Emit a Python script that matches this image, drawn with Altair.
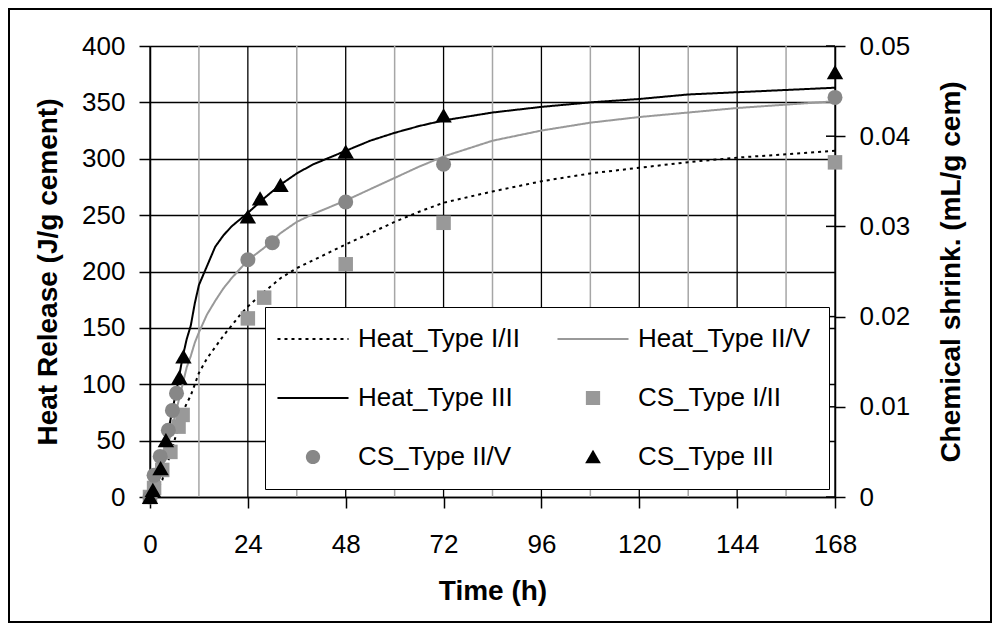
import altair as alt
import pandas as pd

# ---------------- data ----------------
series_names = ["Heat_Type I/II", "Heat_Type II/V", "Heat_Type III",
                "CS_Type I/II", "CS_Type II/V", "CS_Type III"]
series_colors = ["#000000", "#999999", "#000000", "#999999", "#878787", "#000000"]
series_shapes = ["M-5.8,0H5.8", "M-5.8,0H5.8", "M-5.8,0H5.8", "square", "circle", "triangle-up"]
series_dash = [[3, 4], [1, 0], [1, 0], [1, 0], [1, 0], [1, 0]]

heat_time = [0, 1, 2, 3, 4, 5, 6, 7, 8, 9, 10, 11, 12, 14, 16, 18, 20, 22, 24, 28, 32, 36,
             40, 44, 48, 54, 60, 66, 72, 84, 96, 108, 120, 132, 144, 156, 168]
heat_type_I_II = [0, 3, 8, 15, 27, 38, 50, 63, 75, 83, 90, 100, 110, 123, 133, 143, 152, 161,
                  169, 182, 194, 203, 210, 217, 224, 234, 244, 253, 261, 271, 280, 287, 292,
                  297, 301, 304, 307]
heat_type_II_V = [0, 5, 13, 25, 40, 55, 70, 85, 100, 115, 125, 137, 146, 162, 174, 185, 194,
                  202, 210, 221, 234, 244, 251, 257, 263, 273, 283, 293, 302, 316, 325, 332,
                  337, 341, 345, 348, 351]
heat_type_III = [0, 4, 14, 30, 50, 68, 86, 104, 124, 140, 152, 172, 188, 205, 222, 232, 240,
                 246, 252, 265, 277, 287, 295, 301, 307, 316, 323, 329, 334, 341, 346, 350,
                 353, 357, 359, 361, 363]

cs_I_II_time = [0, 1, 3, 5, 7, 8, 24, 28, 48, 72, 168]
cs_I_II = [0, 0.001, 0.003, 0.005, 0.0078, 0.0091, 0.0198, 0.0221, 0.0258, 0.0304, 0.0371]
cs_II_V_time = [0, 1, 2.5, 4.5, 5.5, 6.5, 24, 30, 48, 72, 168]
cs_II_V = [0, 0.0024, 0.0045, 0.0074, 0.0096, 0.0115, 0.0263, 0.0282, 0.0327, 0.0369, 0.0443]
cs_III_time = [0, 0.7, 2.6, 3.9, 7.2, 8.2, 24, 27, 32, 48, 72, 168]
cs_III = [0, 0.0008, 0.0032, 0.0063, 0.0133, 0.0156, 0.0311, 0.0331, 0.0346, 0.0383, 0.0423, 0.0471]

x_ticks = [0, 24, 48, 72, 96, 120, 144, 168]
x_minor = [12, 36, 60, 84, 108, 132, 156]
heat_ticks = [0, 50, 100, 150, 200, 250, 300, 350, 400]
cs_ticks = [0, 0.01, 0.02, 0.03, 0.04, 0.05]

# ---------------- tables ----------------
heat_rows = []
for name, vals in zip(series_names[:3], [heat_type_I_II, heat_type_II_V, heat_type_III]):
    for t, v in zip(heat_time, vals):
        heat_rows.append({"time": t, "heat": v, "series": name})
df_heat = pd.DataFrame(heat_rows)

cs_tables = []
for name, ts, vals in zip(series_names[3:], [cs_I_II_time, cs_II_V_time, cs_III_time],
                          [cs_I_II, cs_II_V, cs_III]):
    cs_tables.append(pd.DataFrame({"time": ts, "cs": vals, "series": [name] * len(ts)}))

df_minor = pd.DataFrame({"time": x_minor})
df_major = pd.DataFrame({"time": x_ticks})
df_cs_ticks = pd.DataFrame({"cs": cs_ticks})

FONT = "Liberation Sans"
W, H = 685, 451
LBL = 26
TTL = 28

color_scale = alt.Scale(domain=series_names, range=series_colors)
shape_scale = alt.Scale(domain=series_names, range=series_shapes)
dash_scale = alt.Scale(domain=series_names, range=series_dash)

legend = alt.Legend(
    title=None, orient="none", legendX=115, legendY=261, columns=2, direction="horizontal",
    fillColor="white", strokeColor="black", padding=19,
    labelFont=FONT, labelFontSize=LBL, labelColor="black", labelOffset=32, symbolOffset=16,
    symbolSize=150, symbolStrokeWidth=2, rowPadding=33, columnPadding=33,
    labelLimit=400,
)

x_axis = alt.Axis(values=x_ticks, title="Time (h)", grid=False, labelFlush=False,
                  tickSize=11, tickColor="black", tickWidth=1.5,
                  domainColor="black", domainWidth=1.5,
                  labelFont=FONT, labelFontSize=LBL, labelColor="black", labelPadding=23,
                  titleFont=FONT, titleFontSize=TTL, titleFontWeight="bold",
                  titleColor="black", titlePadding=20)
x_enc = alt.X("time:Q", scale=alt.Scale(domain=[0, 168], nice=False), axis=x_axis)

minor = alt.Chart(df_minor).mark_rule(color="#a6a6a6", strokeWidth=1.5).encode(x=x_enc)
major = alt.Chart(df_major).mark_rule(color="black", strokeWidth=1.3).encode(x=x_enc)

lines = alt.Chart(df_heat).mark_line(strokeWidth=2).encode(
    x=x_enc,
    y=alt.Y("heat:Q", scale=alt.Scale(domain=[0, 400], nice=False),
            axis=alt.Axis(values=heat_ticks, title="Heat Release (J/g cement)", orient="left",
                          grid=True, gridColor="black", gridWidth=1.3, tickSize=11,
                          tickColor="black", tickWidth=1.5, domainColor="black", domainWidth=1.5,
                          labelFont=FONT, labelFontSize=LBL, labelColor="black", labelPadding=14,
                          titleFont=FONT, titleFontSize=TTL, titleFontWeight="bold",
                          titleColor="black", titlePadding=19)),
    color=alt.Color("series:N", scale=color_scale, legend=legend),
    strokeDash=alt.StrokeDash("series:N", scale=dash_scale, legend=legend),
    detail="series:N",
)

cs_y = alt.Y("cs:Q", scale=alt.Scale(domain=[0, 0.05], nice=False),
             axis=alt.Axis(values=cs_ticks, title="Chemical shrink. (mL/g cem)", orient="right",
                           format=".2~f", grid=False, tickSize=10, tickColor="black",
                           tickWidth=1.5, domainColor="black", domainWidth=1.5,
                           labelFont=FONT, labelFontSize=LBL, labelColor="black", labelPadding=14,
                           titleFont=FONT, titleFontSize=TTL, titleFontWeight="bold",
                           titleColor="black", titlePadding=56, titleAngle=270))

point_sizes = [210, 225, 270]
point_layers = [
    alt.Chart(df_cs_ticks).mark_tick(color="black", thickness=1.5, size=9, opacity=1).encode(
        x=alt.value(W - 4.5), y=cs_y)
]
for df_s, sz in zip(cs_tables, point_sizes):
    point_layers.append(
        alt.Chart(df_s).mark_point(filled=True, opacity=1, size=sz).encode(
            x=x_enc, y=cs_y,
            color=alt.Color("series:N", scale=color_scale, legend=legend),
            shape=alt.Shape("series:N", scale=shape_scale, legend=legend),
        )
    )
points = alt.layer(*point_layers)

frame = alt.Chart(df_minor).mark_rect(fill=None, stroke="black", strokeWidth=1.5).encode(
    x=alt.value(-141), x2=alt.value(W + 156), y=alt.value(-37), y2=alt.value(H + 125)
)

chart = alt.layer(minor, major, lines, points, frame).resolve_scale(y="independent").properties(
    width=W, height=H,
    autosize=alt.AutoSizeParams(type="none"),
    padding={"left": 142, "top": 38, "right": 159, "bottom": 127},
    background="white",
).configure_view(stroke=None)

chart.save("out.html", embed_options={"renderer": "svg", "actions": False})
